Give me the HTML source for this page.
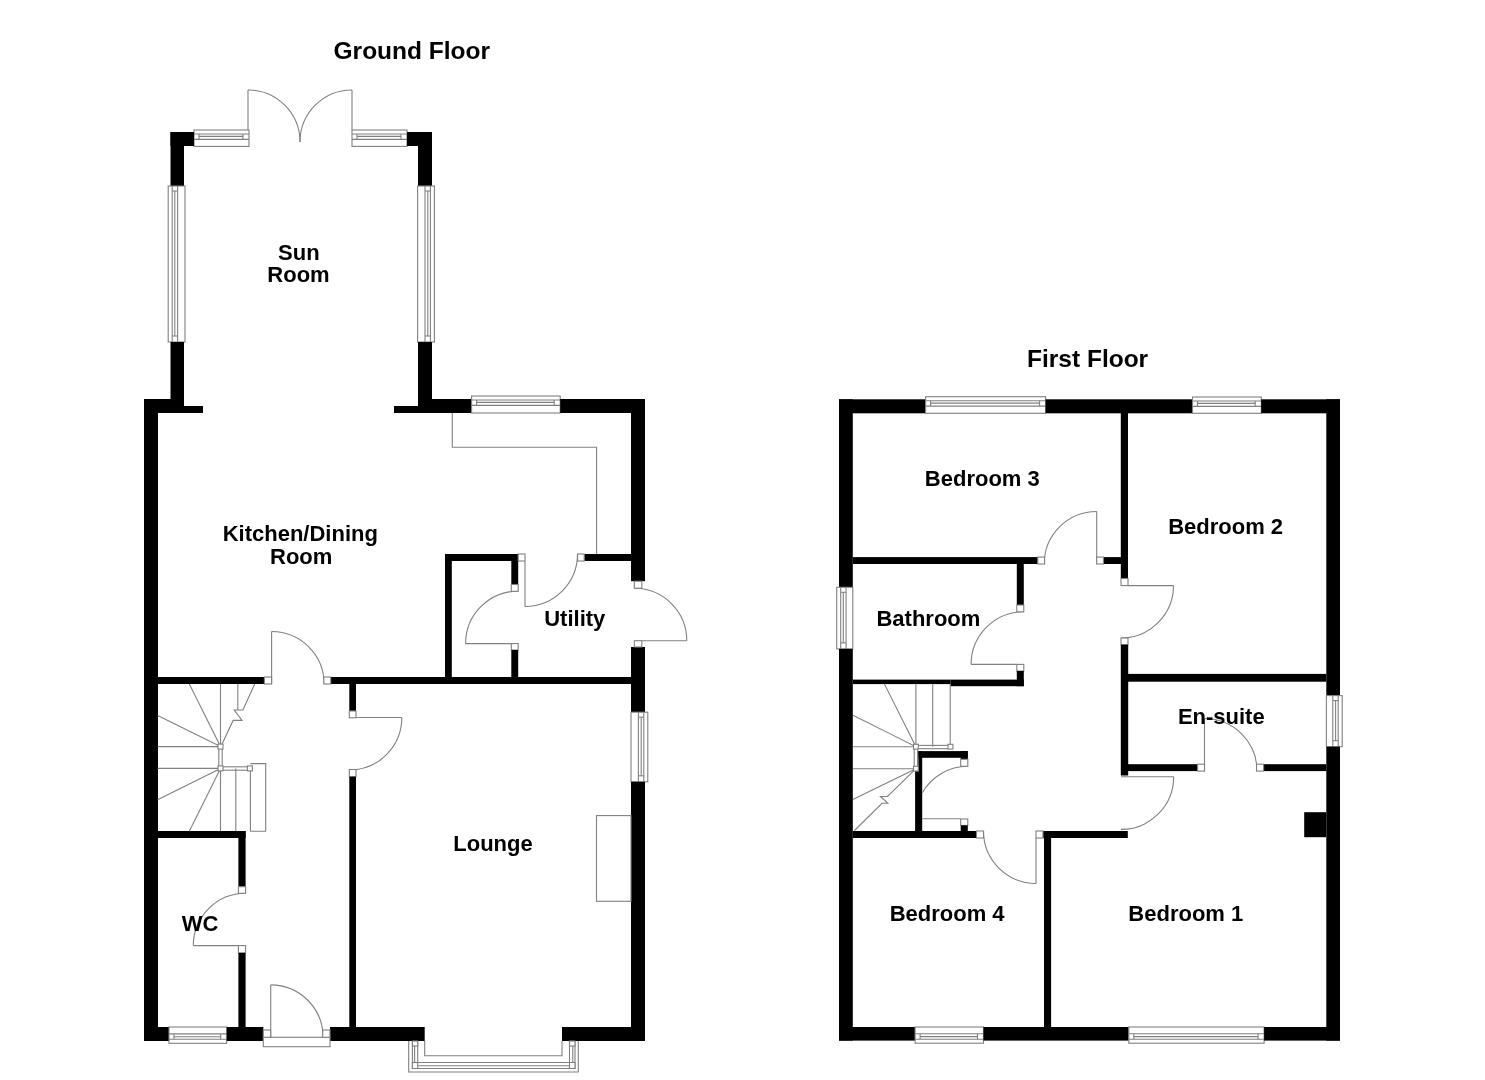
<!DOCTYPE html>
<html><head><meta charset="utf-8"><style>
html,body{margin:0;padding:0;background:#fff;width:1485px;height:1080px;overflow:hidden}
svg{position:absolute;left:0;top:0;will-change:transform}
rect{fill:#000}
rect.j{fill:#fff;stroke:#808080;stroke-width:1.1}
path.l{fill:none;stroke:#808080;stroke-width:1.1}
text{font-family:"Liberation Sans",sans-serif;font-weight:bold;fill:#000;text-anchor:middle}
</style></head><body>
<svg width="1485" height="1080" viewBox="0 0 1485 1080">
<path class="l" d="M248.0,90.0 A52.0,52.0 0 0 1 300.0,142.0"/>
<path class="l" d="M248.0,90.0 L248.0,130.0"/>
<path class="l" d="M352.0,90.0 A52.0,52.0 0 0 0 300.0,142.0"/>
<path class="l" d="M352.0,90.0 L352.0,130.0"/>
<rect class="j" x="194.0" y="130.0" width="55.0" height="16.4"/>
<path class="l" d="M194.0,134.0 L249.0,134.0"/>
<path class="l" d="M194.0,139.4 L249.0,139.4"/>
<path class="l" d="M199.0,134.0 L199.0,139.4"/>
<path class="l" d="M243.0,134.0 L243.0,139.4"/>
<path class="l" d="M199.0,136.4 L243.0,136.4"/>
<rect class="j" x="352.0" y="130.0" width="55.0" height="16.4"/>
<path class="l" d="M352.0,134.0 L407.0,134.0"/>
<path class="l" d="M352.0,139.4 L407.0,139.4"/>
<path class="l" d="M357.0,134.0 L357.0,139.4"/>
<path class="l" d="M401.0,134.0 L401.0,139.4"/>
<path class="l" d="M357.0,136.4 L401.0,136.4"/>
<rect x="170.5" y="132.0" width="23.5" height="14.0"/>
<rect x="170.5" y="132.0" width="13.5" height="54.0"/>
<rect x="407.0" y="132.0" width="25.0" height="14.0"/>
<rect x="418.0" y="132.0" width="14.0" height="54.0"/>
<rect class="j" x="168.2" y="186.0" width="16.8" height="156.0"/>
<path class="l" d="M172.2,186.0 L172.2,342.0"/>
<path class="l" d="M177.6,186.0 L177.6,342.0"/>
<path class="l" d="M172.2,191.0 L177.6,191.0"/>
<path class="l" d="M172.2,336.0 L177.6,336.0"/>
<path class="l" d="M174.8,191.0 L174.8,336.0"/>
<rect class="j" x="417.6" y="186.0" width="16.8" height="156.0"/>
<path class="l" d="M425.0,186.0 L425.0,342.0"/>
<path class="l" d="M430.4,186.0 L430.4,342.0"/>
<path class="l" d="M425.0,191.0 L430.4,191.0"/>
<path class="l" d="M425.0,336.0 L430.4,336.0"/>
<path class="l" d="M427.8,191.0 L427.8,336.0"/>
<rect x="170.5" y="342.0" width="13.5" height="71.0"/>
<rect x="418.0" y="342.0" width="14.0" height="71.0"/>
<rect x="144.0" y="399.0" width="40.0" height="14.0"/>
<rect x="184.0" y="406.0" width="19.0" height="7.0"/>
<rect x="394.0" y="406.0" width="24.0" height="7.0"/>
<rect x="418.0" y="399.0" width="53.6" height="14.0"/>
<rect class="j" x="471.6" y="396.0" width="88.6" height="17.0"/>
<path class="l" d="M471.6,400.0 L560.2,400.0"/>
<path class="l" d="M471.6,405.4 L560.2,405.4"/>
<path class="l" d="M476.6,400.0 L476.6,405.4"/>
<path class="l" d="M554.2,400.0 L554.2,405.4"/>
<path class="l" d="M476.6,402.4 L554.2,402.4"/>
<rect x="560.2" y="399.0" width="84.8" height="14.0"/>
<path class="l" d="M452.3,413.0 L452.3,447.2 L596.6,447.2 L596.6,554.0"/>
<rect x="144.0" y="399.0" width="14.0" height="642.0"/>
<rect x="631.0" y="399.0" width="14.0" height="182.2"/>
<rect x="631.0" y="647.0" width="14.0" height="65.2"/>
<rect class="j" x="631.0" y="712.2" width="16.8" height="69.6"/>
<path class="l" d="M638.4,712.2 L638.4,781.8"/>
<path class="l" d="M643.8,712.2 L643.8,781.8"/>
<path class="l" d="M638.4,717.2 L643.8,717.2"/>
<path class="l" d="M638.4,775.8 L643.8,775.8"/>
<path class="l" d="M641.2,717.2 L641.2,775.8"/>
<rect x="631.0" y="781.8" width="14.0" height="259.2"/>
<rect x="144.0" y="1027.0" width="25.0" height="14.0"/>
<rect class="j" x="169.0" y="1027.0" width="57.7" height="16.3"/>
<path class="l" d="M169.0,1033.9 L226.7,1033.9"/>
<path class="l" d="M169.0,1039.3 L226.7,1039.3"/>
<path class="l" d="M174.0,1033.9 L174.0,1039.3"/>
<path class="l" d="M220.7,1033.9 L220.7,1039.3"/>
<path class="l" d="M174.0,1036.7 L220.7,1036.7"/>
<rect x="226.7" y="1027.0" width="36.6" height="14.0"/>
<rect x="330.0" y="1027.0" width="94.7" height="14.0"/>
<rect x="562.0" y="1027.0" width="83.0" height="14.0"/>
<rect class="j" x="263.3" y="1037.3" width="66.7" height="9.4"/>
<path class="l" d="M270.7,984.9 A52.4,52.4 0 0 1 323.1,1037.3"/>
<path class="l" d="M270.7,1037.3 L270.7,984.9"/>
<rect class="j" x="263.3" y="1030.0" width="7.4" height="7.3"/>
<rect class="j" x="322.7" y="1030.0" width="7.3" height="7.3"/>
<path class="l" d="M408.7,1041.0 L408.7,1072.0 L578.3,1072.0 L578.3,1041.0"/>
<path class="l" d="M424.7,1041.0 L424.7,1055.7 L562.0,1055.7 L562.0,1041.0"/>
<path class="l" d="M412.4,1041.0 L412.4,1068.5 L575.0,1068.5 L575.0,1041.0"/>
<path class="l" d="M417.7,1041.0 L417.7,1062.5 L569.5,1062.5 L569.5,1041.0"/>
<path class="l" d="M414.6,1045.0 L414.6,1065.7 L572.8,1065.7 L572.8,1045.0"/>
<rect class="j" x="412.4" y="1062.5" width="5.3" height="6.0"/>
<rect class="j" x="569.5" y="1062.5" width="5.5" height="6.0"/>
<rect class="j" x="412.4" y="1041.0" width="5.3" height="5.0"/>
<rect class="j" x="569.5" y="1041.0" width="5.5" height="5.0"/>
<path class="l" d="M686.8,640.7 A52.5,52.5 0 0 0 634.3,588.2"/>
<path class="l" d="M641.8,640.7 L686.8,640.7"/>
<rect class="j" x="634.3" y="581.2" width="7.5" height="7.0"/>
<rect class="j" x="634.3" y="640.7" width="7.5" height="6.3"/>
<rect x="584.2" y="554.0" width="46.8" height="7.0"/>
<path class="l" d="M525.0,606.5 A52.5,52.5 0 0 0 577.5,554.0"/>
<path class="l" d="M525.0,561.0 L525.0,606.5"/>
<rect class="j" x="577.6" y="554.0" width="6.6" height="7.0"/>
<rect x="445.0" y="554.0" width="6.8" height="130.0"/>
<rect x="445.0" y="554.0" width="73.2" height="7.0"/>
<rect class="j" x="518.2" y="554.0" width="6.8" height="7.0"/>
<rect x="511.3" y="561.0" width="6.9" height="23.5"/>
<path class="l" d="M465.6,643.6 A52.6,52.6 0 0 1 518.2,591.1"/>
<path class="l" d="M465.6,643.6 L511.3,643.6"/>
<rect class="j" x="511.3" y="584.5" width="6.9" height="6.8"/>
<rect class="j" x="511.3" y="643.6" width="6.9" height="6.4"/>
<rect x="511.3" y="650.0" width="6.9" height="34.0"/>
<rect x="158.0" y="677.0" width="106.4" height="7.0"/>
<rect x="330.7" y="677.0" width="300.3" height="7.0"/>
<path class="l" d="M271.6,631.5 A52.5,52.5 0 0 1 324.1,684.0"/>
<path class="l" d="M271.6,684.0 L271.6,631.5"/>
<rect class="j" x="264.4" y="677.0" width="7.2" height="7.0"/>
<rect class="j" x="323.8" y="677.0" width="6.9" height="7.0"/>
<rect x="349.3" y="684.0" width="6.7" height="27.0"/>
<path class="l" d="M401.8,717.5 A52.5,52.5 0 0 1 349.3,770.0"/>
<path class="l" d="M356.0,717.5 L401.8,717.5"/>
<rect class="j" x="349.3" y="711.0" width="6.7" height="6.8"/>
<rect class="j" x="349.3" y="769.5" width="6.7" height="7.2"/>
<rect x="349.3" y="776.7" width="6.7" height="250.3"/>
<rect class="j" x="596.5" y="815.6" width="34.5" height="85.7"/>
<rect x="158.0" y="831.0" width="87.6" height="7.0"/>
<rect x="238.4" y="831.0" width="7.2" height="55.7"/>
<path class="l" d="M193.3,945.6 A52.3,52.3 0 0 1 245.6,893.3"/>
<path class="l" d="M193.3,945.6 L238.4,945.6"/>
<rect class="j" x="238.4" y="886.7" width="7.2" height="6.6"/>
<rect class="j" x="238.4" y="945.6" width="7.2" height="7.3"/>
<rect x="238.4" y="952.9" width="7.2" height="74.1"/>
<path class="l" d="M220.5,684.0 L220.5,746.6"/>
<path class="l" d="M189.3,684.0 L220.5,746.6"/>
<path class="l" d="M157.6,715.6 L220.5,746.6"/>
<path class="l" d="M157.6,746.6 L220.5,746.6"/>
<path class="l" d="M254.7,684.0 L242.9,710.0 L234.2,710.0 L242.1,720.4 L233.1,720.4 L221.6,745.0"/>
<path class="l" d="M237.8,684.0 L237.8,710.0"/>
<path class="l" d="M157.6,768.4 L220.5,768.4"/>
<path class="l" d="M157.6,799.8 L220.5,768.4"/>
<path class="l" d="M189.3,831.3 L220.5,768.4"/>
<path class="l" d="M220.5,768.4 L220.5,831.3"/>
<path class="l" d="M235.8,768.4 L235.8,831.3"/>
<path class="l" d="M250.4,768.4 L250.4,831.3"/>
<path class="l" d="M250.4,763.6 L265.7,763.6 L265.7,831.3 L250.4,831.3"/>
<path class="l" d="M218.8,749.0 L218.8,766.0"/>
<path class="l" d="M222.2,749.0 L222.2,766.0"/>
<path class="l" d="M222.0,766.8 L248.0,766.8"/>
<path class="l" d="M222.0,770.2 L248.0,770.2"/>
<rect class="j" x="218.0" y="744.1" width="5.0" height="5.0"/>
<rect class="j" x="218.0" y="765.9" width="5.0" height="5.0"/>
<rect class="j" x="247.4" y="765.9" width="5.0" height="5.0"/>
<rect x="839.0" y="399.3" width="13.8" height="188.0"/>
<rect class="j" x="836.7" y="587.3" width="16.1" height="61.6"/>
<path class="l" d="M840.7,587.3 L840.7,648.9"/>
<path class="l" d="M846.1,587.3 L846.1,648.9"/>
<path class="l" d="M840.7,592.3 L846.1,592.3"/>
<path class="l" d="M840.7,642.9 L846.1,642.9"/>
<path class="l" d="M843.3,592.3 L843.3,642.9"/>
<rect x="839.0" y="648.9" width="13.8" height="391.7"/>
<rect x="839.0" y="399.3" width="86.6" height="14.0"/>
<rect class="j" x="925.6" y="396.7" width="120.0" height="16.6"/>
<path class="l" d="M925.6,400.7 L1045.6,400.7"/>
<path class="l" d="M925.6,406.1 L1045.6,406.1"/>
<path class="l" d="M930.6,400.7 L930.6,406.1"/>
<path class="l" d="M1039.6,400.7 L1039.6,406.1"/>
<path class="l" d="M930.6,403.1 L1039.6,403.1"/>
<rect x="1045.6" y="399.3" width="146.9" height="14.0"/>
<rect class="j" x="1192.5" y="397.0" width="68.8" height="16.3"/>
<path class="l" d="M1192.5,401.0 L1261.2,401.0"/>
<path class="l" d="M1192.5,406.4 L1261.2,406.4"/>
<path class="l" d="M1197.5,401.0 L1197.5,406.4"/>
<path class="l" d="M1255.2,401.0 L1255.2,406.4"/>
<path class="l" d="M1197.5,403.4 L1255.2,403.4"/>
<rect x="1261.2" y="399.3" width="78.8" height="14.0"/>
<rect x="1326.3" y="399.3" width="13.7" height="296.3"/>
<rect class="j" x="1326.4" y="695.6" width="15.8" height="51.1"/>
<path class="l" d="M1332.8,695.6 L1332.8,746.7"/>
<path class="l" d="M1338.2,695.6 L1338.2,746.7"/>
<path class="l" d="M1332.8,700.6 L1338.2,700.6"/>
<path class="l" d="M1332.8,740.7 L1338.2,740.7"/>
<path class="l" d="M1335.6,700.6 L1335.6,740.7"/>
<rect x="1326.3" y="746.7" width="13.7" height="293.9"/>
<rect x="839.0" y="1027.0" width="76.1" height="13.6"/>
<rect class="j" x="915.1" y="1027.0" width="68.4" height="16.2"/>
<path class="l" d="M915.1,1033.8 L983.5,1033.8"/>
<path class="l" d="M915.1,1039.2 L983.5,1039.2"/>
<path class="l" d="M920.1,1033.8 L920.1,1039.2"/>
<path class="l" d="M977.5,1033.8 L977.5,1039.2"/>
<path class="l" d="M920.1,1036.6 L977.5,1036.6"/>
<rect x="983.5" y="1027.0" width="145.3" height="13.6"/>
<rect class="j" x="1128.8" y="1027.0" width="135.3" height="16.2"/>
<path class="l" d="M1128.8,1033.8 L1264.1,1033.8"/>
<path class="l" d="M1128.8,1039.2 L1264.1,1039.2"/>
<path class="l" d="M1133.8,1033.8 L1133.8,1039.2"/>
<path class="l" d="M1258.1,1033.8 L1258.1,1039.2"/>
<path class="l" d="M1133.8,1036.6 L1258.1,1036.6"/>
<rect x="1264.1" y="1027.0" width="75.9" height="13.6"/>
<rect x="852.8" y="557.1" width="185.0" height="6.9"/>
<rect x="1103.5" y="557.1" width="17.5" height="6.9"/>
<path class="l" d="M1096.7,511.5 A52.5,52.5 0 0 0 1044.2,564.0"/>
<path class="l" d="M1096.7,564.0 L1096.7,511.5"/>
<rect class="j" x="1037.8" y="557.1" width="6.8" height="6.9"/>
<rect class="j" x="1096.7" y="557.1" width="6.8" height="6.9"/>
<rect x="1120.8" y="413.0" width="7.2" height="165.5"/>
<path class="l" d="M1173.5,585.6 A52.5,52.5 0 0 1 1121.0,638.1"/>
<path class="l" d="M1128.0,585.6 L1173.5,585.6"/>
<rect class="j" x="1121.0" y="578.5" width="7.0" height="7.1"/>
<rect class="j" x="1121.0" y="638.0" width="7.0" height="6.7"/>
<rect x="1120.8" y="644.7" width="7.4" height="130.8"/>
<rect x="1016.8" y="564.0" width="7.0" height="41.0"/>
<path class="l" d="M971.1,664.4 A52.7,52.7 0 0 1 1023.8,611.7"/>
<path class="l" d="M971.1,664.4 L1016.8,664.4"/>
<rect class="j" x="1016.8" y="605.0" width="7.0" height="6.8"/>
<rect class="j" x="1016.8" y="664.4" width="7.0" height="6.6"/>
<rect x="1016.8" y="671.0" width="7.0" height="15.2"/>
<rect x="852.8" y="679.6" width="97.7" height="4.5"/>
<rect x="950.5" y="679.6" width="73.3" height="6.6"/>
<rect x="1128.0" y="673.9" width="198.3" height="7.8"/>
<rect x="1128.0" y="764.2" width="69.6" height="6.9"/>
<rect x="1263.6" y="764.2" width="62.7" height="6.9"/>
<path class="l" d="M1204.5,718.5 A52.5,52.5 0 0 1 1257.0,771.0"/>
<path class="l" d="M1204.5,771.0 L1204.5,718.5"/>
<rect class="j" x="1197.6" y="764.2" width="6.9" height="6.9"/>
<rect class="j" x="1256.5" y="764.2" width="7.1" height="6.9"/>
<rect x="1304.2" y="812.2" width="22.1" height="25.0"/>
<path class="l" d="M1173.7,776.7 A52.7,52.7 0 0 1 1121.0,829.4"/>
<path class="l" d="M1121.0,776.7 L1173.7,776.7"/>
<rect x="918.3" y="751.1" width="49.5" height="6.7"/>
<rect x="960.7" y="751.1" width="7.1" height="8.2"/>
<rect x="918.3" y="751.1" width="3.9" height="19.9"/>
<rect x="915.1" y="771.0" width="7.1" height="60.0"/>
<path class="l" d="M967.8,766.3 A52.5,52.5 0 0 0 922.2,793.0"/>
<path class="l" d="M922.2,818.8 L960.7,818.8"/>
<rect class="j" x="960.7" y="759.3" width="7.1" height="7.0"/>
<rect class="j" x="960.7" y="819.0" width="7.1" height="6.4"/>
<rect x="960.7" y="825.4" width="7.1" height="5.6"/>
<rect x="852.8" y="831.0" width="123.7" height="7.0"/>
<rect x="1043.0" y="831.0" width="84.8" height="7.0"/>
<path class="l" d="M983.5,831.0 A52.5,52.5 0 0 0 1036.0,883.5"/>
<path class="l" d="M1036.0,838.0 L1036.0,883.5"/>
<rect class="j" x="976.5" y="831.0" width="7.0" height="7.0"/>
<rect class="j" x="1036.0" y="831.0" width="7.0" height="7.0"/>
<rect x="1044.0" y="831.0" width="7.1" height="196.0"/>
<path class="l" d="M915.9,684.0 L915.9,746.7"/>
<path class="l" d="M884.4,684.0 L915.9,746.7"/>
<path class="l" d="M852.9,715.2 L915.9,746.7"/>
<path class="l" d="M852.9,746.7 L915.9,746.7"/>
<path class="l" d="M932.7,684.0 L932.7,746.7"/>
<path class="l" d="M950.2,684.0 L950.2,746.7"/>
<path class="l" d="M852.9,768.7 L915.9,768.7"/>
<path class="l" d="M852.9,799.4 L915.9,768.7"/>
<path class="l" d="M915.9,768.7 L887.5,796.5 L880.5,796.5 L887.8,803.3 L882.0,803.3 L854.5,830.5"/>
<path class="l" d="M914.2,749.0 L914.2,766.0"/>
<path class="l" d="M917.6,749.0 L917.6,766.0"/>
<path class="l" d="M918.0,745.4 L948.0,745.4"/>
<path class="l" d="M918.0,748.7 L948.0,748.7"/>
<rect class="j" x="913.5" y="744.3" width="4.8" height="4.8"/>
<rect class="j" x="913.5" y="766.3" width="4.8" height="4.8"/>
<rect class="j" x="948.0" y="744.3" width="4.9" height="4.8"/>
<text x="298.8" y="259.7" font-size="22">Sun</text>
<text x="298.5" y="282.0" font-size="22">Room</text>
<text x="300.3" y="541.2" font-size="22">Kitchen/Dining</text>
<text x="301.2" y="563.6" font-size="22">Room</text>
<text x="574.8" y="625.5" font-size="22">Utility</text>
<text x="200.0" y="931.1" font-size="22">WC</text>
<text x="493.0" y="851.1" font-size="22">Lounge</text>
<text x="411.8" y="58.8" font-size="24.5">Ground Floor</text>
<text x="1087.6" y="367.0" font-size="24.5">First Floor</text>
<text x="982.3" y="485.6" font-size="22">Bedroom 3</text>
<text x="1225.6" y="533.8" font-size="22">Bedroom 2</text>
<text x="928.4" y="625.6" font-size="22">Bathroom</text>
<text x="1221.3" y="724.4" font-size="22">En-suite</text>
<text x="947.1" y="921.3" font-size="22">Bedroom 4</text>
<text x="1185.8" y="921.0" font-size="22">Bedroom 1</text>
</svg></body></html>
